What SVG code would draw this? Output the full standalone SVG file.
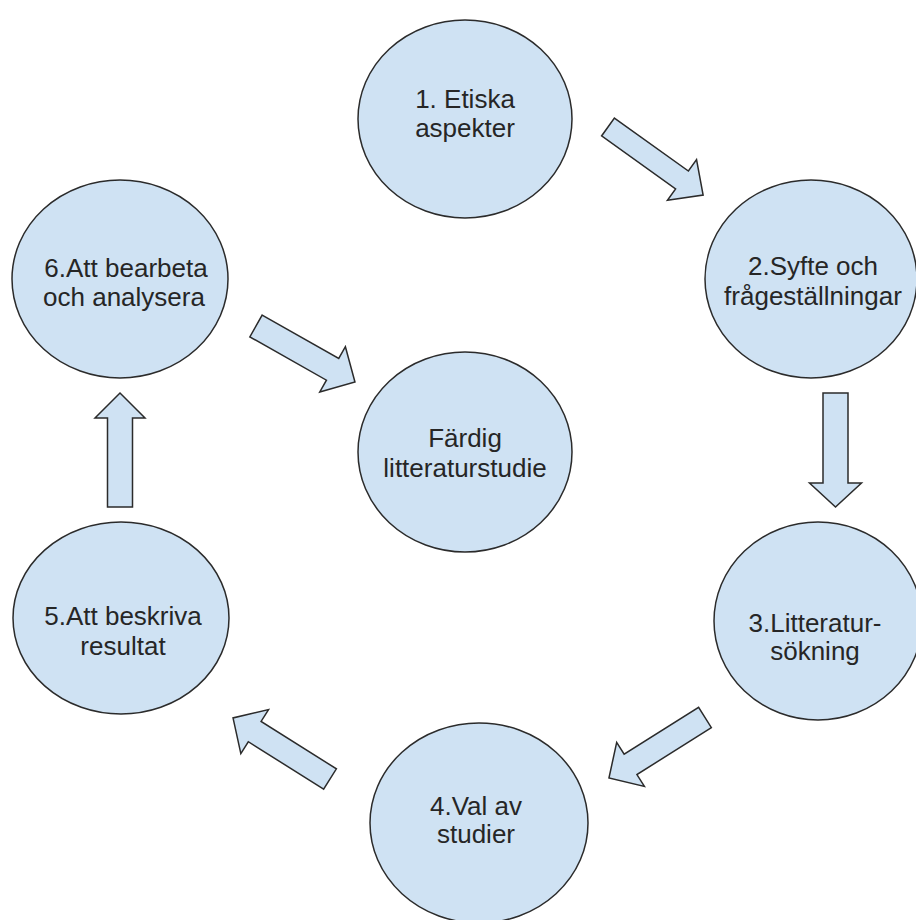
<svg xmlns="http://www.w3.org/2000/svg" width="916" height="920" viewBox="0 0 916 920">
<style>
.n{fill:#cfe2f3;stroke:#2b2b2b;stroke-width:1.5}
.a{fill:#cfe2f3;stroke:#2b2b2b;stroke-width:1.5;stroke-linejoin:miter}
.t{font-family:"Liberation Sans",Arial,sans-serif;font-size:26px;fill:#262626;text-anchor:middle}
</style>
<rect width="916" height="920" fill="#ffffff"/>
<g id="connectors">
<path class="a" d="M0,-11 L91,-11 L91,-25 L117,0 L91,25 L91,11 L0,11 Z" transform="translate(608,127) rotate(35.6)"/>
<path class="a" d="M0,-12.5 L90,-12.5 L90,-26 L114,0 L90,26 L90,12.5 L0,12.5 Z" transform="translate(835.5,393) rotate(90)"/>
<path class="a" d="M0,-12 L88,-12 L88,-26 L113.5,0 L88,26 L88,12 L0,12 Z" transform="translate(705,717.5) rotate(147.8)"/>
<path class="a" d="M0,-12 L89,-12 L89,-26 L114.6,0 L89,26 L89,12 L0,12 Z" transform="translate(330,779) rotate(212.2)"/>
<path class="a" d="M0,-12.5 L89,-12.5 L89,-25 L114,0 L89,25 L89,12.5 L0,12.5 Z" transform="translate(120,507) rotate(-90)"/>
<path class="a" d="M0,-12.5 L88,-12.5 L88,-26 L113.7,0 L88,26 L88,12.5 L0,12.5 Z" transform="translate(256,326) rotate(29.5)"/>
</g>
<g id="n1">
<ellipse class="n" cx="465" cy="119" rx="107" ry="99"/>
<text class="t" x="465" y="108">1. Etiska</text>
<text class="t" x="465" y="137">aspekter</text>
</g>
<g id="n2">
<ellipse class="n" cx="811" cy="279" rx="106" ry="99"/>
<text class="t" x="813" y="275">2.Syfte och</text>
<text class="t" x="813" y="305">frågeställningar</text>
</g>
<g id="n3">
<ellipse class="n" cx="818" cy="621" rx="104" ry="99"/>
<text class="t" x="815" y="632">3.Litteratur-</text>
<text class="t" x="815" y="660">sökning</text>
</g>
<g id="n4">
<ellipse class="n" cx="479" cy="823" rx="109" ry="100"/>
<text class="t" x="476" y="815">4.Val av</text>
<text class="t" x="476" y="843">studier</text>
</g>
<g id="n5">
<ellipse class="n" cx="121" cy="618" rx="108" ry="96"/>
<text class="t" x="123" y="625">5.Att beskriva</text>
<text class="t" x="123" y="655">resultat</text>
</g>
<g id="n6">
<ellipse class="n" cx="120" cy="279" rx="108" ry="99"/>
<text class="t" x="126" y="277">6.Att bearbeta</text>
<text class="t" x="124" y="306">och analysera</text>
</g>
<g id="center">
<ellipse class="n" cx="465" cy="452" rx="107" ry="100"/>
<text class="t" x="465" y="447">Färdig</text>
<text class="t" x="465" y="477">litteraturstudie</text>
</g>
</svg>
